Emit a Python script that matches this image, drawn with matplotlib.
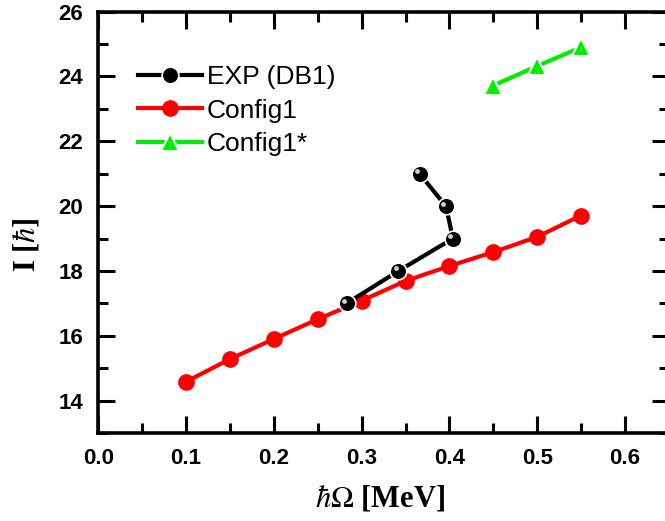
import numpy as np
import matplotlib
matplotlib.use('Agg')
import matplotlib.pyplot as plt
from matplotlib.transforms import offset_copy
from matplotlib.ticker import MultipleLocator

plt.rcParams['mathtext.fontset'] = 'stix'

# Данные
exp_x = [0.283, 0.342, 0.404, 0.396, 0.366]
exp_y = [17, 18, 19, 20, 21]

cfg1_x = [0.10, 0.15, 0.20, 0.25, 0.30, 0.35, 0.40, 0.45, 0.50, 0.55]
cfg1_y = [14.58, 15.28, 15.90, 16.51, 17.08, 17.69, 18.15, 18.58, 19.05, 19.71]

cfg1s_x = [0.45, 0.50, 0.55]
cfg1s_y = [23.72, 24.32, 24.90]

fig = plt.figure(figsize=(6.65, 5.21), dpi=100)
ax = fig.add_axes([0.1478, 0.169, 0.858, 0.8086])

# Config1
ax.plot(cfg1_x, cfg1_y, '-o', color='red', lw=3, ms=11, label='Config1', zorder=3)
# Config1*
ax.plot(cfg1s_x, cfg1s_y, '-^', color='#00ee00', lw=3, ms=13,
        mec='white', mew=1.5, label='Config1*', zorder=3)
# EXP (DB1) - шарики
ax.plot(exp_x, exp_y, '-o', color='black', lw=3, ms=12,
        mec='white', mew=1.2, label='EXP (DB1)', zorder=4)
hl = offset_copy(ax.transData, fig=fig, x=-2.5, y=2.5, units='dots')
ax.plot(exp_x, exp_y, 'o', color='#d0d0d0', ms=3.5, mew=0, transform=hl, zorder=5)

ax.set_xlim(0, 0.65)
ax.set_ylim(13, 26)
ax.xaxis.set_major_locator(MultipleLocator(0.1))
ax.xaxis.set_minor_locator(MultipleLocator(0.05))
ax.yaxis.set_major_locator(MultipleLocator(2))
ax.yaxis.set_minor_locator(MultipleLocator(1))

for s in ax.spines.values():
    s.set_linewidth(2.6)
ax.tick_params(which='both', direction='in', top=True, right=True, width=2.2)
ax.tick_params(which='major', length=12.5, pad=11)
ax.tick_params(which='minor', length=7)

for lab in ax.get_xticklabels() + ax.get_yticklabels():
    lab.set_fontfamily('Liberation Sans')
    lab.set_fontweight('bold')
    lab.set_fontsize(16)

ax.set_xlabel(r'$\hbar\Omega$ [MeV]', fontfamily='Liberation Serif',
              fontweight='bold', fontsize=22)
ax.set_ylabel(r'I [$\hbar$]', fontfamily='Liberation Serif',
              fontweight='bold', fontsize=22)
ax.xaxis.set_label_coords(0.494, -0.119)
ax.yaxis.set_label_coords(-0.100, 0.446)

h, l = ax.get_legend_handles_labels()
order = [2, 0, 1]
ax.legend([h[i] for i in order], [l[i] for i in order], loc='upper left',
          bbox_to_anchor=(0.07, 0.873), frameon=False, borderpad=0,
          borderaxespad=0, handlelength=2.4, handletextpad=0.2,
          labelspacing=0.36, prop={'family': 'Liberation Sans', 'size': 19})

fig.savefig('out.png', dpi=100)
